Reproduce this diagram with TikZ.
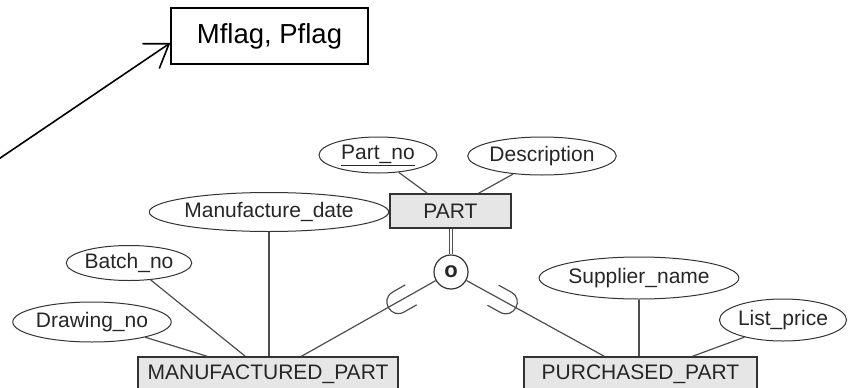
\documentclass[tikz,border=0pt]{standalone}
\usepackage{fontspec}
\setmainfont{Liberation Sans}
\usetikzlibrary{shapes.geometric,calc,arrows.meta}
\definecolor{lc}{HTML}{4D4D4D}
\definecolor{ec}{HTML}{333333}
\definecolor{ef}{HTML}{E6E6E6}
\definecolor{tc}{HTML}{262626}
\begin{document}
\begin{tikzpicture}[x=1pt,y=-1pt,
  attr/.style={ellipse,draw=ec,line width=1pt,inner sep=0pt,text=tc,font=\fontsize{21}{24}\selectfont},
  ent/.style={rectangle,draw=ec,fill=ef,line width=1.3pt,inner sep=0pt,text=tc,font=\fontsize{21}{24}\selectfont},
  conn/.style={draw=lc,line width=1.2pt},
  subsym/.style={draw=lc,line width=1.2pt},
  notebox/.style={rectangle,draw=black,line width=1.5pt,inner sep=0pt,text=black,font=\fontsize{27.5}{32}\selectfont},
]
\useasboundingbox (0,0) rectangle (851,388);
\clip (0,0) rectangle (851,388);

% note box and arrow
\node[notebox,minimum width=197pt,minimum height=56pt] (mflag) at (269.5,36) {Mflag, Pflag};
\coordinate (astart) at (-2,159.5);
\draw[line width=1.6pt,-{Straight Barb[length=22pt,width=30pt,line width=1.6pt]}] (astart) -- ($(mflag.west)+(0,7)$);

% entities
\node[ent,minimum width=121pt,minimum height=34pt] (part) at (450.5,211) {PART};
\node[ent,minimum width=260pt,minimum height=35pt] (mp) at (268,374.5) {MANUFACTURED\_PART};
\node[ent,minimum width=233pt,minimum height=35pt] (pp) at (640.5,374.5) {PURCHASED\_PART};

% attributes
\node[attr,minimum width=118pt,minimum height=36pt] (partno) at (378,155) {\underline{Part\_no}};
\node[attr,minimum width=146pt,minimum height=38pt] (desc) at (542,156) {Description};
\node[attr,minimum width=207pt,minimum height=39pt] (mdate) at (269,212) {Manufacture\_date};
\node[attr,minimum width=121pt,minimum height=35pt] (batch) at (129,263) {Batch\_no};
\node[attr,minimum width=153pt,minimum height=40pt] (drawing) at (92,322) {Drawing\_no};
\node[attr,minimum width=169pt,minimum height=42pt] (sname) at (639,278) {Supplier\_name};
\node[attr,minimum width=117pt,minimum height=42pt] (lprice) at (783,320) {List\_price};

% specialization circle
\node[circle,draw=ec,line width=1.2pt,minimum size=34pt,inner sep=0pt,text=tc,
      font=\bfseries\fontsize{22}{24}\selectfont] (circ) at (451,272) {o};

% attribute connectors
\draw[conn] (partno.-40) -- ($(part.north west)+(38,0)$);
\draw[conn] (desc.212) -- ($(part.north west)+(89,0)$);
\draw[conn] (drawing.-16) -- ($(mp.north west)+(70,0)$);
\draw[conn] (batch.-38) -- ($(mp.north west)+(108,0)$);
\draw[conn] (mdate.south) -- (mdate.south |- mp.north);
\draw[conn] (sname.south) -- (sname.south |- pp.north);
\draw[conn] (lprice.204) -- ($(pp.north west)+(169,0)$);

% specialization lines
\draw[draw=lc,line width=1pt,double=white,double distance=2.5pt] (part.south -| circ) -- (circ.north);
\draw[conn] (circ) -- ($(mp.north west)+(164,0)$);
\draw[conn] (circ) -- ($(pp.north west)+(81,0)$);

% subset symbols
\begin{scope}[shift={(circ.center)},rotate=209.7]
  \draw[subsym] (46,11.5) -- (60.5,11.5) .. controls (75.8,11.5) and (75.8,-11.5) .. (60.5,-11.5) -- (46,-11.5);
\end{scope}
\begin{scope}[shift={(circ.center)},rotate=-28.9]
  \draw[subsym] (48,11.5) -- (62.5,11.5) .. controls (77.8,11.5) and (77.8,-11.5) .. (62.5,-11.5) -- (48,-11.5);
\end{scope}
\end{tikzpicture}
\end{document}
